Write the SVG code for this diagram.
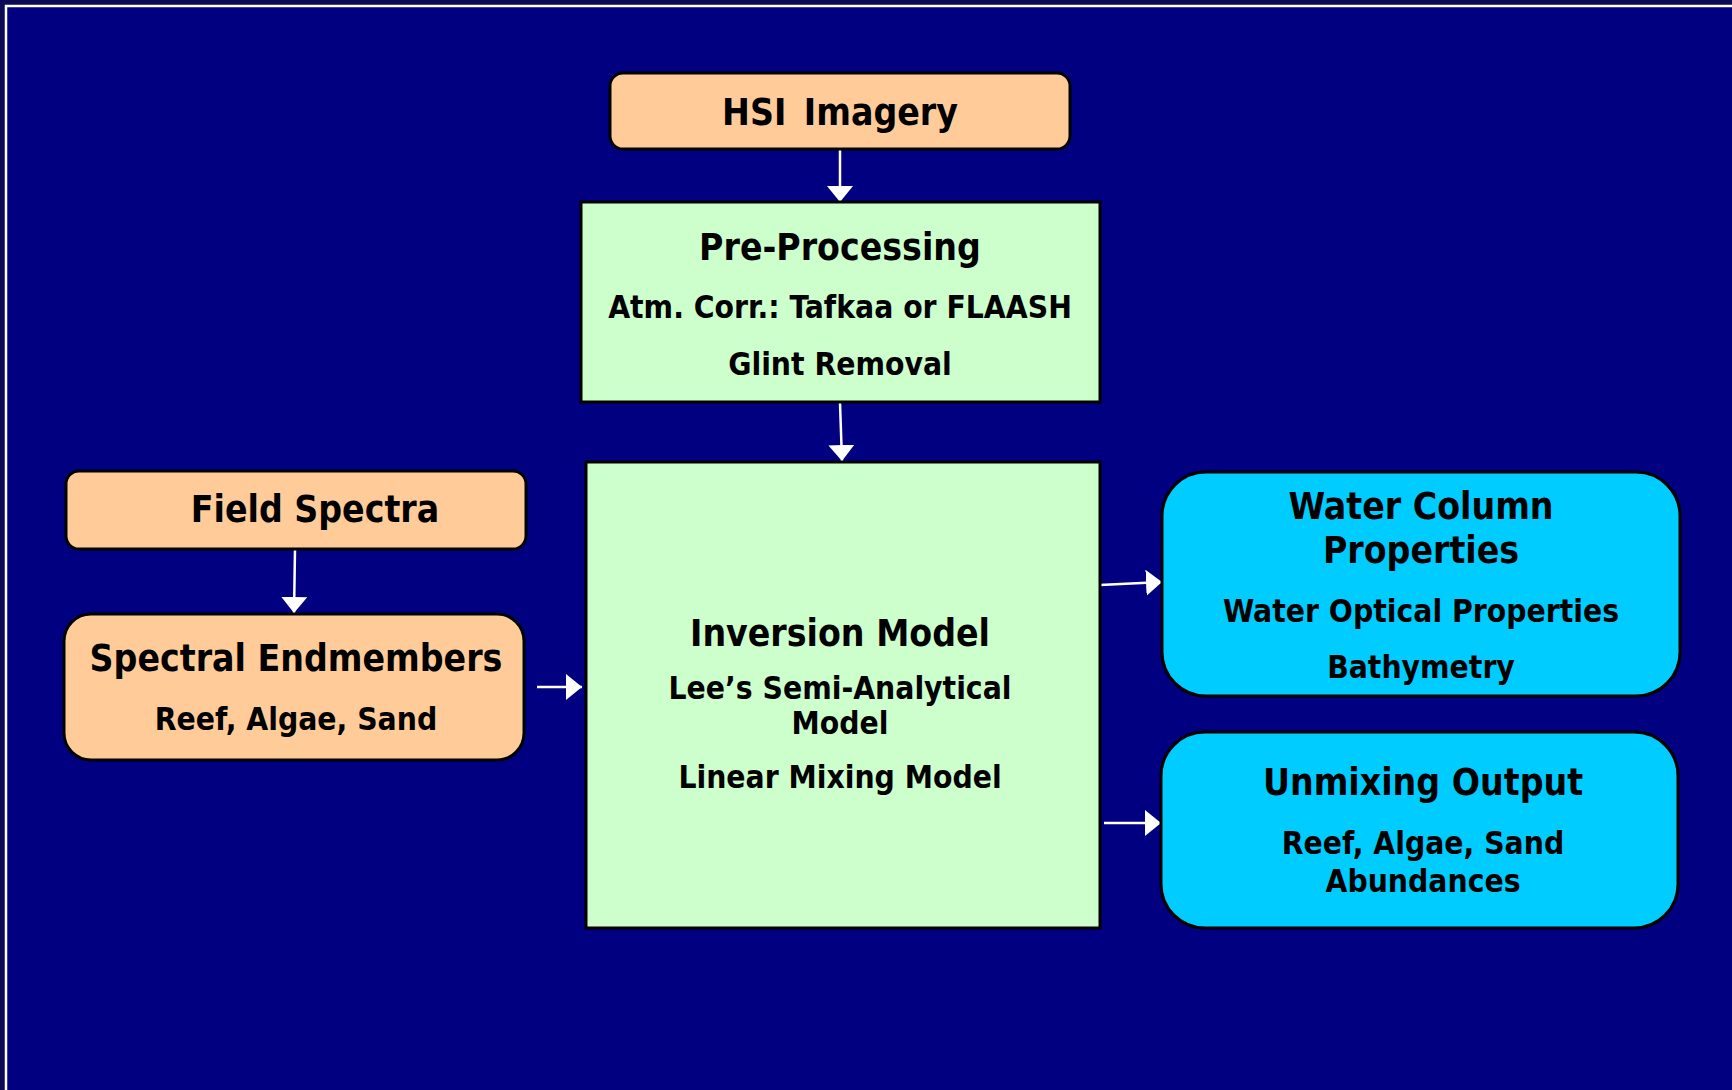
<svg xmlns="http://www.w3.org/2000/svg" width="1732" height="1090" viewBox="0 0 1732 1090">
  <style>
    .t { font-family: "DejaVu Sans Condensed", "DejaVu Sans", sans-serif; font-stretch: condensed; font-weight: bold; fill: #000; text-anchor: middle; }
    .h { font-size: 37px; }
    .s { font-size: 31.5px; }
    .peach { fill: #FFCC99; stroke: #000; stroke-width: 3; }
    .green { fill: #CCFFCC; stroke: #000; stroke-width: 3; }
    .cyan { fill: #00CCFF; stroke: #000; stroke-width: 3; }
    .conn line { stroke: #fff; stroke-width: 2.5; }
  </style>
  <defs>
    <marker id="head" viewBox="0 0 16 26" refX="16" refY="13" markerWidth="16" markerHeight="26" markerUnits="userSpaceOnUse" orient="auto">
      <path d="M0,0 L16,13 L0,26 Z" fill="#fff"/>
    </marker>
  </defs>

  <!-- slide background and frame -->
  <rect x="0" y="0" width="1732" height="1090" fill="#0a0a55"/>
  <rect x="6" y="6" width="1740" height="1100" fill="#000080" stroke="#fff" stroke-width="2.5"/>

  <!-- connectors -->
  <g id="connectors" class="conn">
    <line x1="840" y1="150" x2="840" y2="202" marker-end="url(#head)"/>
    <line x1="840" y1="403" x2="842" y2="461" marker-end="url(#head)"/>
    <line x1="295" y1="550" x2="294" y2="613" marker-end="url(#head)"/>
    <line x1="537" y1="687" x2="582" y2="687" marker-end="url(#head)"/>
    <line x1="1100" y1="585" x2="1162" y2="582" marker-end="url(#head)"/>
    <line x1="1104" y1="823" x2="1161" y2="823" marker-end="url(#head)"/>
  </g>

  <g id="hsi-imagery">
    <rect class="peach" x="610" y="73" width="460" height="76" rx="13"/>
    <text class="t h" x="840" y="125" word-spacing="6">HSI Imagery</text>
  </g>

  <g id="pre-processing">
    <rect class="green" x="581" y="202" width="519" height="200"/>
    <text class="t h" x="840" y="260">Pre-Processing</text>
    <text class="t s" x="840" y="318">Atm. Corr.: Tafkaa or FLAASH</text>
    <text class="t s" x="840" y="375">Glint Removal</text>
  </g>

  <g id="field-spectra">
    <rect class="peach" x="66" y="471" width="460" height="78" rx="13"/>
    <text class="t h" x="315" y="522">Field Spectra</text>
  </g>

  <g id="spectral-endmembers">
    <rect class="peach" x="64" y="614" width="460" height="146" rx="27"/>
    <text class="t h" x="296" y="671">Spectral Endmembers</text>
    <text class="t s" x="296" y="730">Reef, Algae, Sand</text>
  </g>

  <g id="inversion-model">
    <rect class="green" x="586" y="462" width="514" height="466"/>
    <text class="t h" x="840" y="646">Inversion Model</text>
    <text class="t s" x="840" y="699">Lee’s Semi-Analytical</text>
    <text class="t s" x="840" y="734">Model</text>
    <text class="t s" x="840" y="788">Linear Mixing Model</text>
  </g>

  <g id="water-column-properties">
    <rect class="cyan" x="1162" y="472" width="518" height="224" rx="44"/>
    <text class="t h" x="1421" y="519">Water Column</text>
    <text class="t h" x="1421" y="563">Properties</text>
    <text class="t s" x="1421" y="622">Water Optical Properties</text>
    <text class="t s" x="1421" y="678">Bathymetry</text>
  </g>

  <g id="unmixing-output">
    <rect class="cyan" x="1161" y="732" width="517" height="196" rx="44"/>
    <text class="t h" x="1423" y="795">Unmixing Output</text>
    <text class="t s" x="1423" y="854">Reef, Algae, Sand</text>
    <text class="t s" x="1423" y="892">Abundances</text>
  </g>
</svg>
